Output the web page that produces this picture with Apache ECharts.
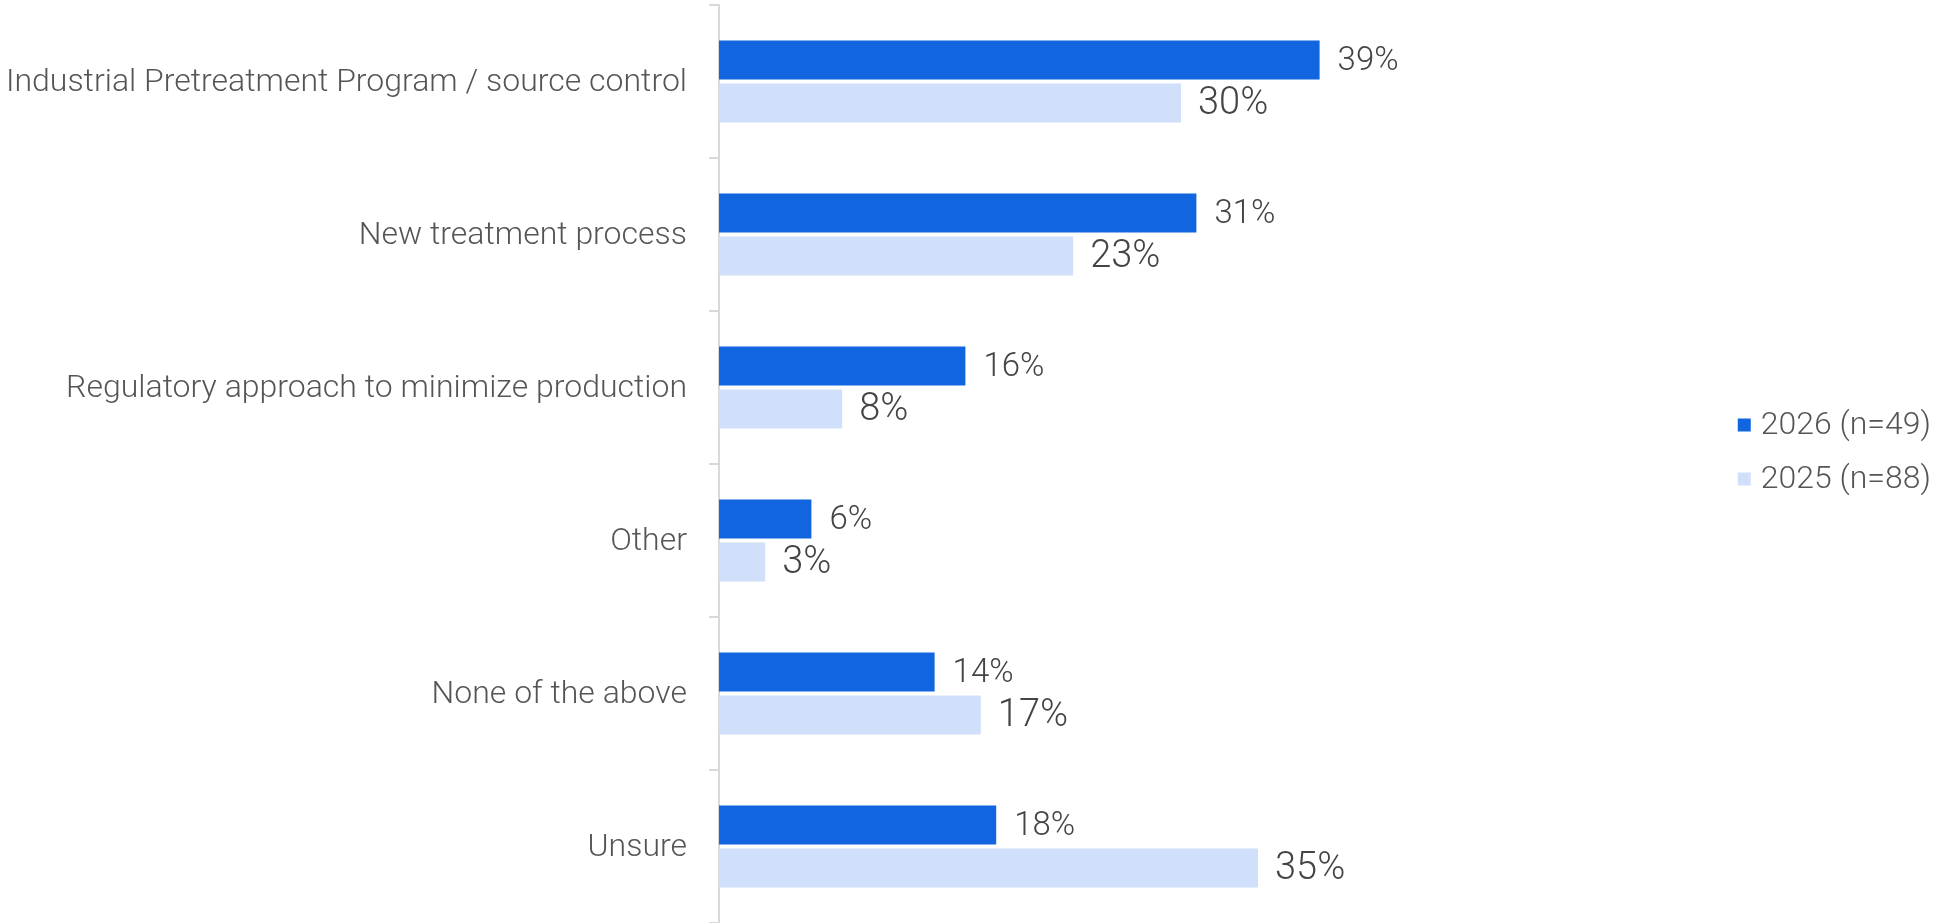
<!DOCTYPE html>
<html><head><meta charset="utf-8">
<script src="https://cdn.jsdelivr.net/npm/echarts@6/dist/echarts.min.js"></script>
<style>html,body{margin:0;padding:0;background:#fff}#c{width:1934px;height:923px}</style>
</head><body><div id="c"></div>
<script>
const categories = [
  "Industrial Pretreatment Program / source control",
  "New treatment process",
  "Regulatory approach to minimize production",
  "Other",
  "None of the above",
  "Unsure"
];
const seriesNames = ["2026 (n=49)", "2025 (n=88)"];
const values2026 = [39, 31, 16, 6, 14, 18];
const values2025 = [30, 23, 8, 3, 17, 35];

const chart = echarts.init(document.getElementById('c'), null, {renderer: 'canvas'});
const FONT = "'Roboto Light', Roboto";
chart.setOption({
  animation: false,
  textStyle: {fontFamily: FONT},
  grid: {left: 719, top: 5, bottom: -3.6, width: 770, containLabel: false},
  legend: {
    orient: 'vertical', right: 3, top: 408, padding: 0,
    itemWidth: 13, itemHeight: 13, itemGap: 20, icon: 'rect',
    textStyle: {fontFamily: FONT, fontWeight: 300, fontSize: 32, lineHeight: 32, color: '#555', padding: [2, 0, 0, 5]},
    data: seriesNames
  },
  xAxis: {
    type: 'value', min: 0, max: 50,
    show: false
  },
  yAxis: {
    type: 'category', inverse: true, data: categories, offset: 2,
    axisLine: {show: true, lineStyle: {color: '#d9d9d9', width: 2}},
    axisTick: {show: true, length: 10, lineStyle: {color: '#d9d9d9', width: 2}},
    axisLabel: {margin: 30, fontFamily: FONT, fontWeight: 300, fontSize: 32, color: '#555', padding: [9, 0, 0, 0]},
    splitLine: {show: false}
  },
  series: [
    {
      name: seriesNames[0], type: 'bar', data: values2026,
      barWidth: 39, barGap: '10%',
      itemStyle: {color: '#1166e0'},
      label: {show: true, position: 'right', distance: 18, formatter: '{c}%',
        fontFamily: FONT, fontWeight: 300, fontSize: 33, color: '#444', padding: [4, 0, 0, 0]}
    },
    {
      name: seriesNames[1], type: 'bar', data: values2025,
      barWidth: 39, barGap: '10%',
      itemStyle: {color: '#d0e0fa'},
      label: {show: true, position: 'right', distance: 17, formatter: '{c}%',
        fontFamily: FONT, fontWeight: 300, fontSize: 38, color: '#444', padding: [4, 0, 0, 0]}
    }
  ]
});
</script></body></html>
